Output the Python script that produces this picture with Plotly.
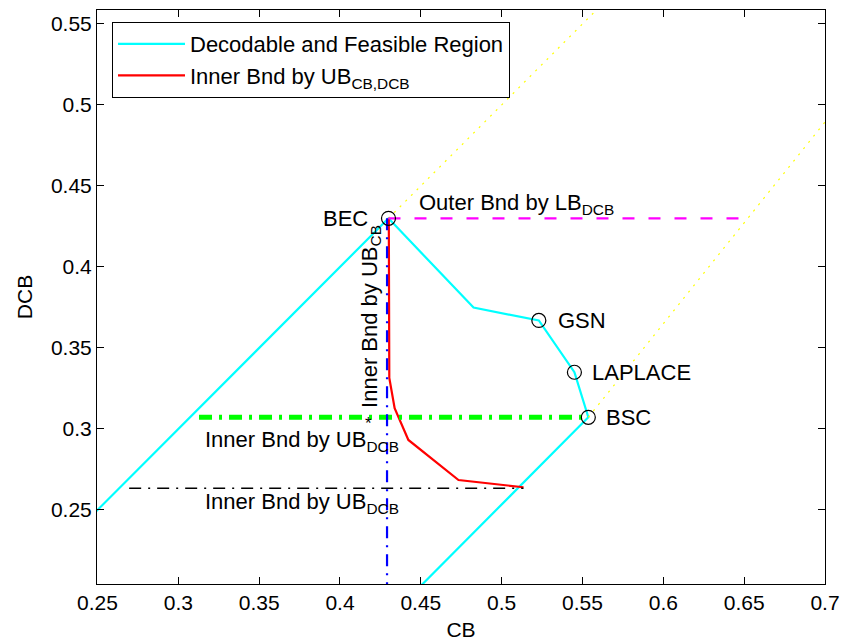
import plotly.graph_objects as go

# ---- data ----
region_x = [0.20, 0.430, 0.4826, 0.523, 0.545, 0.5536, 0.40]
region_y = [0.20, 0.430, 0.3749, 0.367, 0.335, 0.3072, 0.153]

inner_x = [0.4302, 0.4303, 0.4305, 0.4338, 0.4423, 0.4733, 0.5135]
inner_y = [0.4300, 0.3700, 0.3315, 0.3128, 0.2932, 0.2685, 0.2640]

outer_lb_x = [0.430, 0.6534]
outer_lb_y = [0.430, 0.430]

ub_cb_x = [0.4291, 0.4291]
ub_cb_y = [0.430, 0.150]

ub_star_x = [0.3128, 0.5536]
ub_star_y = [0.3072, 0.3072]

ub_dcb_x = [0.2696, 0.5135]
ub_dcb_y = [0.2634, 0.2634]

yel1_x = [0.430, 0.62]
yel1_y = [0.430, 0.62]
yel2_x = [0.5536, 0.72]
yel2_y = [0.3072, 0.5144]

pt_names = ["BEC", "GSN", "LAPLACE", "BSC"]
pt_x = [0.430, 0.523, 0.545, 0.5536]
pt_y = [0.430, 0.367, 0.335, 0.3072]

xticks = [0.25, 0.3, 0.35, 0.4, 0.45, 0.5, 0.55, 0.6, 0.65, 0.7]
xtick_labels = ["0.25", "0.3", "0.35", "0.4", "0.45", "0.5", "0.55", "0.6", "0.65", "0.7"]
yticks = [0.25, 0.3, 0.35, 0.4, 0.45, 0.5, 0.55]
ytick_labels = ["0.25", "0.3", "0.35", "0.4", "0.45", "0.5", "0.55"]

FONT = "Liberation Sans, Arial, Helvetica, sans-serif"

fig = go.Figure()
fig.add_trace(go.Scatter(x=region_x, y=region_y, mode="lines",
                         line=dict(color="#00ffff", width=2.2),
                         name="Decodable and Feasible Region"))
fig.add_trace(go.Scatter(x=inner_x, y=inner_y, mode="lines",
                         line=dict(color="#ff0000", width=2.2),
                         name="Inner Bnd by UB<sub>CB,DCB</sub>"))
fig.add_trace(go.Scatter(x=yel1_x, y=yel1_y, mode="lines", showlegend=False,
                         line=dict(color="#ffff00", width=1.2, dash="2px,6px")))
fig.add_trace(go.Scatter(x=yel2_x, y=yel2_y, mode="lines", showlegend=False,
                         line=dict(color="#ffff00", width=1.2, dash="2px,6px")))
fig.add_trace(go.Scatter(x=outer_lb_x, y=outer_lb_y, mode="lines", showlegend=False,
                         line=dict(color="#ff00ff", width=2.2, dash="12px,14px")))
fig.add_trace(go.Scatter(x=ub_star_x, y=ub_star_y, mode="lines", showlegend=False,
                         line=dict(color="#00ff00", width=5, dash="13px,7px,3px,7px")))
fig.add_trace(go.Scatter(x=ub_dcb_x, y=ub_dcb_y, mode="lines", showlegend=False,
                         line=dict(color="#000000", width=1.5, dash="12px,7px,2px,7px")))
fig.add_trace(go.Scatter(x=ub_cb_x, y=ub_cb_y, mode="lines", showlegend=False,
                         line=dict(color="#0000ff", width=2.2, dash="12px,7px,2px,7px")))
fig.add_trace(go.Scatter(x=pt_x, y=pt_y, mode="markers", showlegend=False,
                         marker=dict(symbol="circle-open", size=14,
                                     color="black", line=dict(width=1.2, color="black"))))

ann = []
def label(text, x, y, xanchor="left", size=22, angle=0, xref="x", yref="y"):
    ann.append(dict(text=text, x=x, y=y, xref=xref, yref=yref, showarrow=False,
                    xanchor=xanchor, yanchor="middle", textangle=angle,
                    font=dict(family=FONT, size=size, color="black")))

label("BEC", 0.4188, 0.4302, xanchor="right")
label("GSN", 0.5336, pt_y[1])
label("LAPLACE", 0.5546, pt_y[2])
label("BSC", 0.5633, pt_y[3])
label("Outer Bnd by LB<sub>DCB</sub>", 0.4478, 0.4389)
label("Inner Bnd by UB<sub>DCB</sub>", 0.3151, 0.2926)
label("*", 0.4176, 0.3035, xanchor="center", size=17)
label("Inner Bnd by UB<sub>DCB</sub>", 0.3151, 0.2543)
label("Inner Bnd by UB<sub>CB</sub>", 0.4188, 0.3694, xanchor="center", angle=-90)
fig.update_layout(annotations=ann)

axis_common = dict(showline=True, linecolor="black", linewidth=1, mirror="ticks",
                   ticks="inside", ticklen=7, tickcolor="black", showgrid=False,
                   zeroline=False, automargin=False,
                   tickfont=dict(family=FONT, size=21, color="black"))
fig.update_xaxes(range=[0.2497, 0.7], tickvals=xticks, ticktext=xtick_labels,
                 title=dict(text="CB", font=dict(family=FONT, size=21, color="black"),
                            standoff=9), **axis_common)
fig.update_yaxes(range=[0.2043, 0.5586], tickvals=yticks, ticktext=ytick_labels,
                 title=dict(text="DCB", font=dict(family=FONT, size=21, color="black"),
                            standoff=12), **axis_common)

fig.update_layout(
    width=843, height=642,
    margin=dict(l=97, r=18, t=10, b=58),
    paper_bgcolor="white", plot_bgcolor="white",
    font=dict(family=FONT, size=21, color="black"),
    legend=dict(x=0.0206, y=0.979, xanchor="left", yanchor="top",
                bordercolor="black", borderwidth=1, bgcolor="white",
                itemwidth=67, font=dict(family=FONT, size=22, color="black"),
                tracegroupgap=0),
)

fig.write_html("out.html")
